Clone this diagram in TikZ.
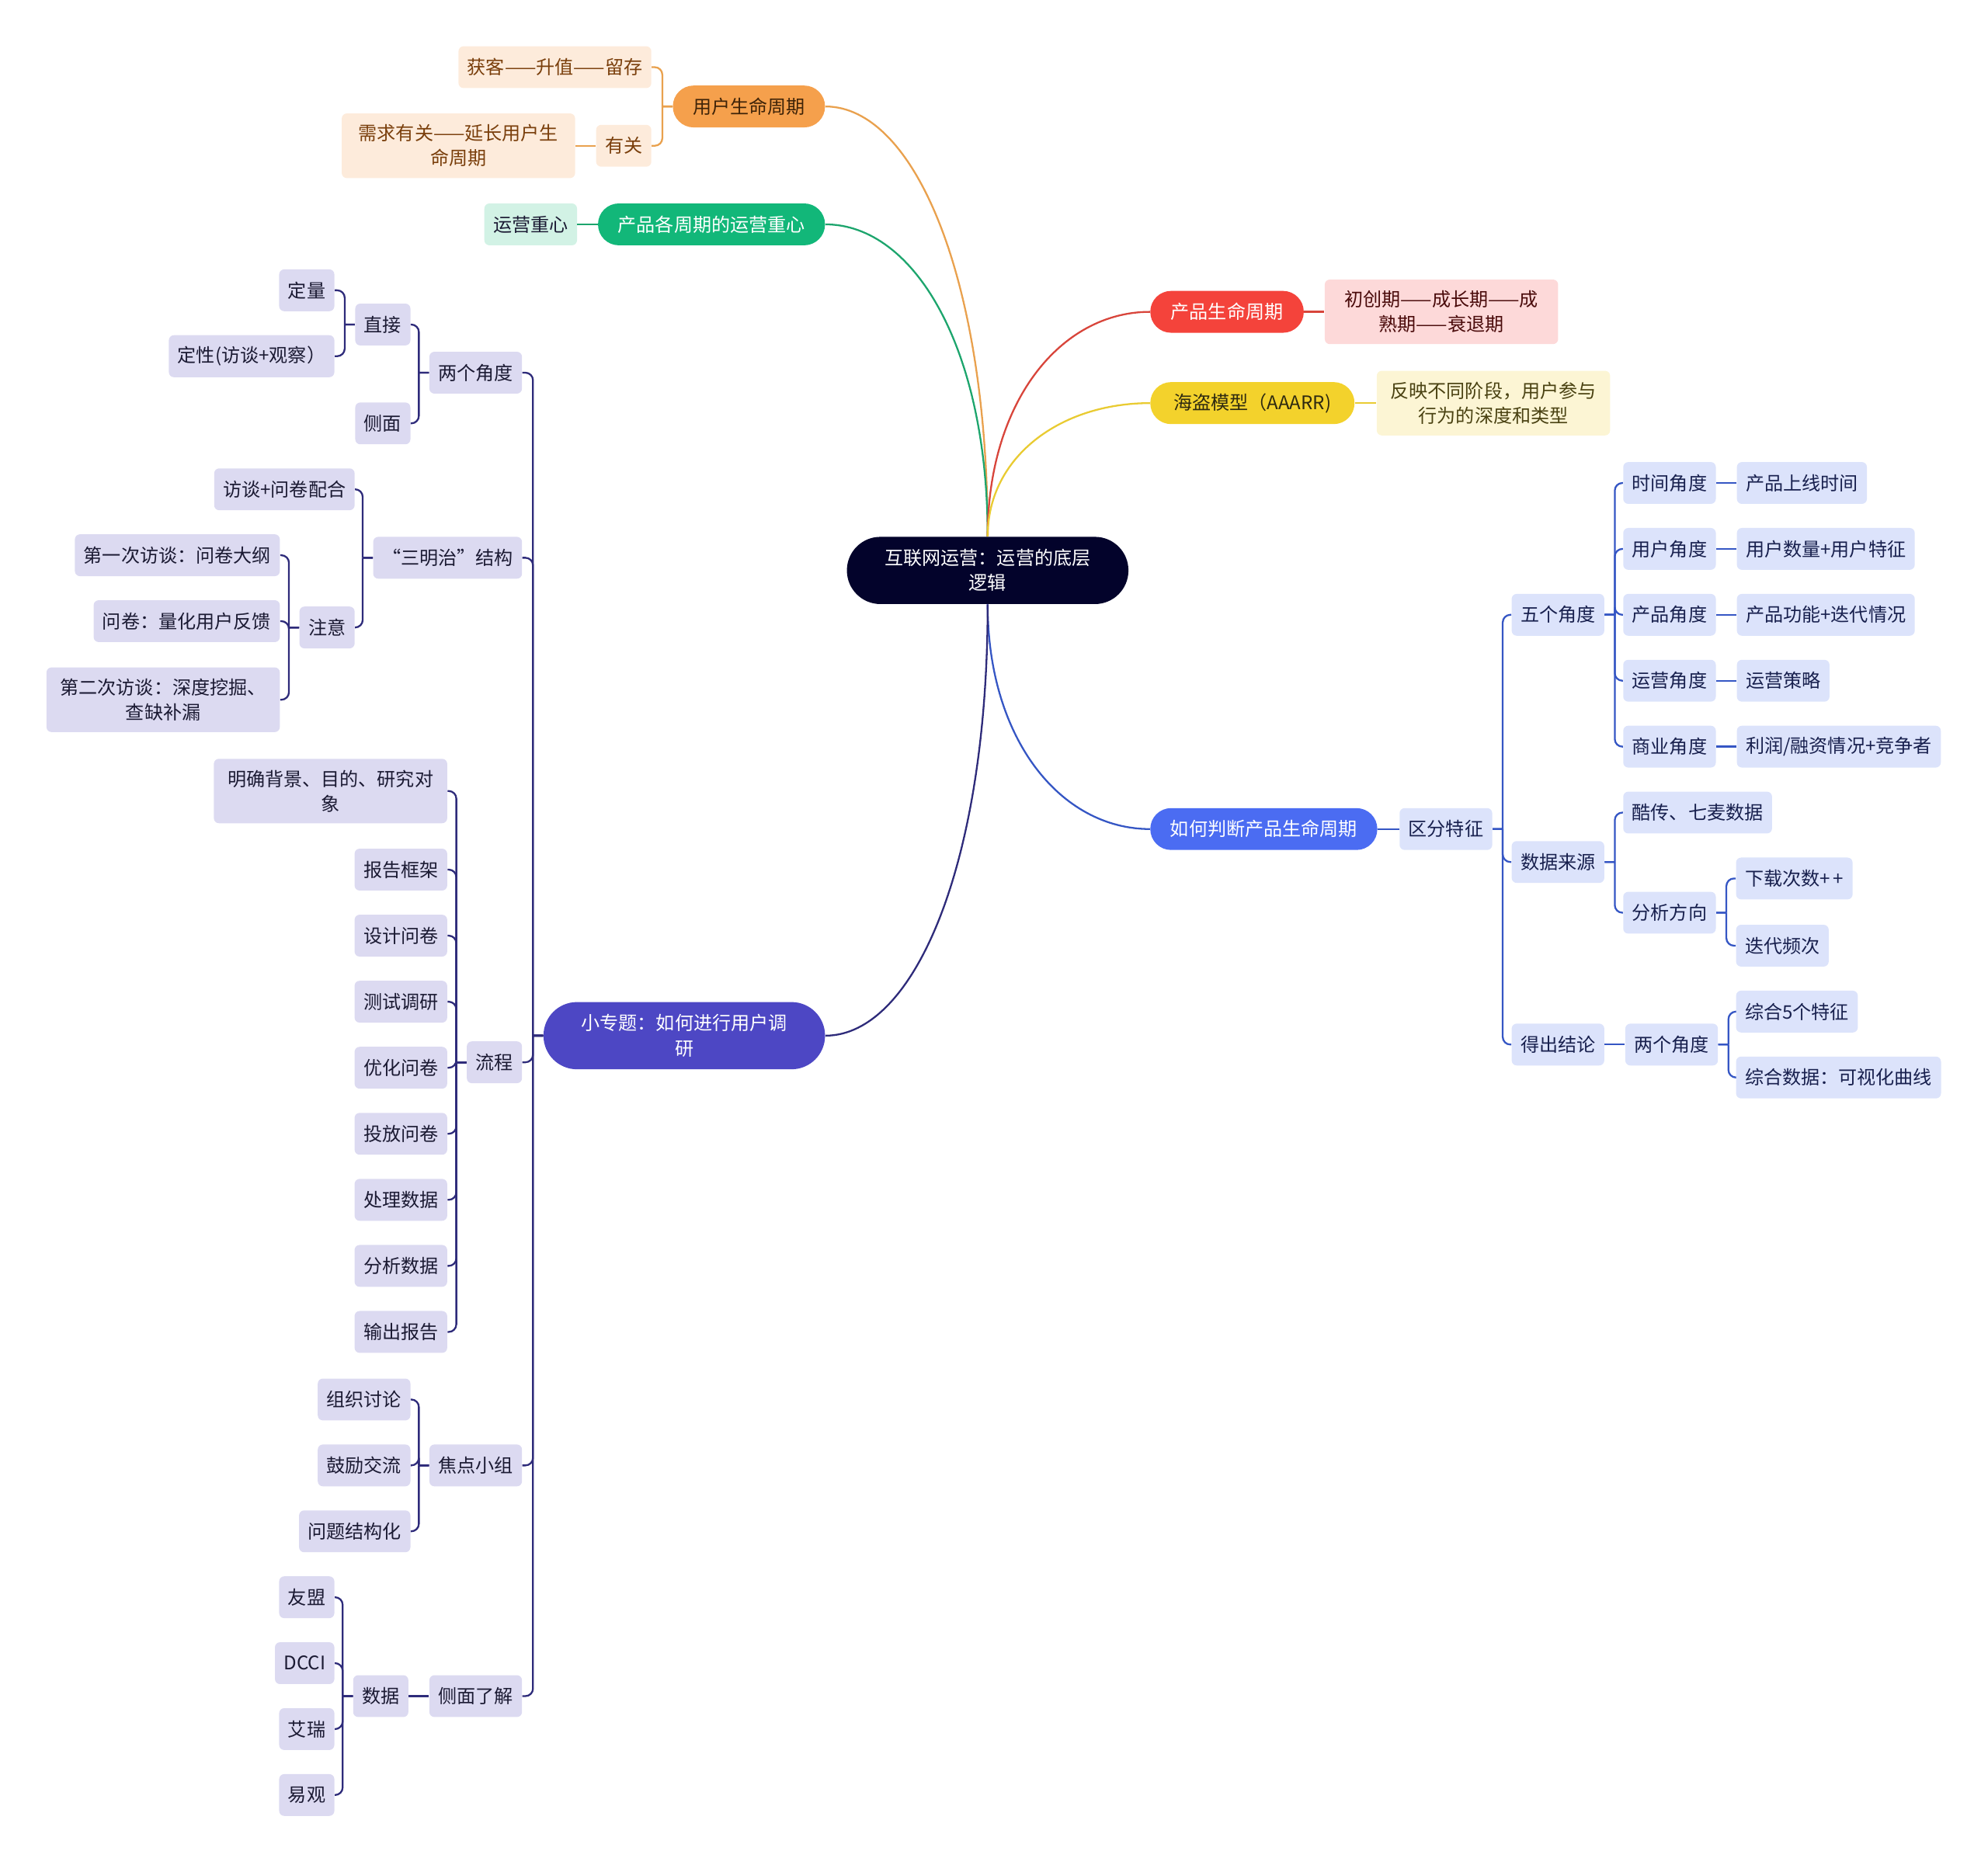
\documentclass[tikz,border=0pt]{standalone}
\usepackage{fontspec}
\setmainfont{Noto Sans CJK SC}
\usetikzlibrary{calc, positioning}

\definecolor{rootbg}{HTML}{03032B}
\definecolor{orbg}{HTML}{F5A04C}
\definecolor{ortx}{HTML}{3E2308}
\definecolor{orleaf}{HTML}{FDEBDB}
\definecolor{orleaftx}{HTML}{7A3F0C}
\definecolor{orln}{HTML}{E9A14E}
\definecolor{grbg}{HTML}{12B779}
\definecolor{grleaf}{HTML}{D2F2E5}
\definecolor{grln}{HTML}{1DA56D}
\definecolor{rdbg}{HTML}{F4433B}
\definecolor{rdleaf}{HTML}{FDD9D9}
\definecolor{rdleaftx}{HTML}{4A0B0B}
\definecolor{rdln}{HTML}{D8453B}
\definecolor{ylbg}{HTML}{F3D22C}
\definecolor{yltx}{HTML}{2E2A10}
\definecolor{ylleaf}{HTML}{FCF5D4}
\definecolor{ylleaftx}{HTML}{4A4212}
\definecolor{ylln}{HTML}{E9CB32}
\definecolor{blbg}{HTML}{4B6CF2}
\definecolor{blbox}{HTML}{DCE3FB}
\definecolor{bltx}{HTML}{18204E}
\definecolor{blln}{HTML}{3556C4}
\definecolor{inbg}{HTML}{4D47C4}
\definecolor{lavbox}{HTML}{DCDAF1}
\definecolor{lavtx}{HTML}{1B1A33}
\definecolor{inln}{HTML}{2E2B7A}

\begin{document}
\begin{tikzpicture}[x=0.025cm, y=-0.025cm,
    every node/.style={font=\fontsize{10.5}{14}\selectfont, align=center},
    box/.style={rounded corners=1mm, inner xsep=1.75mm, inner ysep=2.2mm, minimum height=8.25mm},
    pill/.style={rounded corners=4.1mm, inner xsep=3mm, inner ysep=2.2mm, minimum height=8.25mm},
    bigpill/.style={rounded corners=6.6mm, minimum width=55.5mm, minimum height=13.25mm},
    twoline/.style={minimum width=46mm},
    lbox/.style={box, fill=lavbox, text=lavtx, anchor=east},
    rbox/.style={box, fill=blbox, text=bltx, anchor=west},
    lline/.style={draw=inln, line width=1pt, rounded corners=1.5mm},
    rline/.style={draw=blln, line width=1pt, rounded corners=1.5mm},
    brl/.style={to path={-- ++(-8,0) ++(0,0) |- (\tikztotarget)}},
    brr/.style={to path={-- ++(8,0) ++(0,0) |- (\tikztotarget)}},
    rootcurve/.style={line width=1pt, to path={.. controls ($(\tikztostart)!0.6!(\tikztostart|-\tikztotarget)$) and ($(\tikztotarget)!0.55!(\tikztostart|-\tikztotarget)$) .. (\tikztotarget)}}]

    \useasboundingbox (0,0) rectangle (1568,1471);

    % centre
    \node[bigpill, fill=rootbg, text=white] (root) at (779,450) {互联网运营：运营的底层\\逻辑};

    % user life cycle
    \node[pill, fill=orbg, text=ortx, anchor=east, minimum width=30mm] (ulc) at (651,84) {用户生命周期};
    \node[box, fill=orleaf, text=orleaftx, anchor=east] (ulc1) at (514,53) {获客——升值——留存};
    \node[box, fill=orleaf, text=orleaftx, anchor=east] (ulc2) at (514,115) {有关};
    \node[box, fill=orleaf, text=orleaftx, twoline, left=4mm of ulc2] (ulc21) {需求有关——延长用户生\\命周期};

    \node[pill, fill=grbg, text=white, anchor=east, minimum width=44.75mm] (pcf) at (651,177) {产品各周期的运营重心};
    \node[box, fill=grleaf, text=lavtx, left=4mm of pcf] (pcf1) {运营重心};

    % right side
    \node[pill, fill=rdbg, text=white, anchor=west, minimum width=30.25mm] (plc) at (907,246) {产品生命周期};
    \node[box, fill=rdleaf, text=rdleaftx, twoline, right=4mm of plc] (plc1) {初创期——成长期——成\\熟期——衰退期};

    \node[pill, fill=ylbg, text=yltx, anchor=west, minimum width=40.25mm] (pir) at (907,318) {海盗模型（AAARR)};
    \node[box, fill=ylleaf, text=ylleaftx, twoline, right=4.25mm of pir] (pir1) {反映不同阶段，用户参与\\行为的深度和类型};

    \node[pill, fill=blbg, text=white, anchor=west, minimum width=44.75mm] (how) at (907,654) {如何判断产品生命周期};
    \node[rbox, right=4.25mm of how] (how1) {区分特征};
    \node[rbox] (f5) at (1192,485) {五个角度};
    \node[rbox] (src) at (1192,680) {数据来源};
    \node[rbox] (con) at (1192,824) {得出结论};

    \node[rbox] (f51) at (1280,381) {时间角度};
    \node[rbox] (f52) at (1280,433) {用户角度};
    \node[rbox] (f53) at (1280,485) {产品角度};
    \node[rbox] (f54) at (1280,537) {运营角度};
    \node[rbox] (f55) at (1280,589) {商业角度};
    \node[rbox, right=4mm of f51] (f511) {产品上线时间};
    \node[rbox, right=4mm of f52] (f521) {用户数量+用户特征};
    \node[rbox, right=4mm of f53] (f531) {产品功能+迭代情况};
    \node[rbox, right=4mm of f54] (f541) {运营策略};
    \node[rbox, right=4mm of f55] (f551) {利润/融资情况+竞争者};

    \node[rbox] (src1) at (1280,641) {酷传、七麦数据};
    \node[rbox] (src2) at (1280,720) {分析方向};
    \node[rbox] (src21) at (1369,693) {下载次数+\,+};
    \node[rbox] (src22) at (1369,746) {迭代频次};

    \node[rbox, right=4mm of con] (con1) {两个角度};
    \node[rbox] (con11) at (1369,798) {综合5个特征};
    \node[rbox] (con12) at (1369,850) {综合数据：可视化曲线};

    % user research
    \node[pill, bigpill, fill=inbg, text=white, anchor=east] (ur) at (651,817) {小专题：如何进行用户调\\研};
    \node[lbox] (ur1) at (412,294) {两个角度};
    \node[lbox] (ur2) at (412,440) {“三明治”结构};
    \node[lbox] (ur3) at (412,838) {流程};
    \node[lbox] (ur4) at (412,1156) {焦点小组};
    \node[lbox] (ur5) at (412,1338) {侧面了解};

    \node[lbox] (ur11) at (324,256) {直接};
    \node[lbox] (ur12) at (324,334) {侧面};
    \node[lbox] (ur111) at (264,229) {定量};
    \node[lbox] (ur112) at (264,281) {定性(访谈+观察）};

    \node[lbox] (ur21) at (280,386) {访谈+问卷配合};
    \node[lbox] (ur22) at (280,495) {注意};
    \node[lbox] (ur221) at (221,438) {第一次访谈：问卷大纲};
    \node[lbox] (ur222) at (221,490) {问卷：量化用户反馈};
    \node[lbox, twoline] (ur223) at (221,552) {第二次访谈：深度挖掘、\\查缺补漏};

    \node[lbox, twoline] (ur30) at (353,624) {明确背景、目的、研究对\\象};
    \foreach \t [count=\i] in {报告框架, 设计问卷, 测试调研, 优化问卷, 投放问卷, 处理数据, 分析数据, 输出报告}
        \node[lbox] (ur3\i) at (353,633.9+52.1*\i) {\t};

    \node[lbox] (ur41) at (324,1104) {组织讨论};
    \node[lbox] (ur42) at (324,1156) {鼓励交流};
    \node[lbox] (ur43) at (324,1208) {问题结构化};

    \node[lbox, left=4mm of ur5] (ur51) {数据};
    \node[lbox] (ur511) at (264,1260) {友盟};
    \node[lbox] (ur512) at (264,1312) {DCCI};
    \node[lbox] (ur513) at (264,1364) {艾瑞};
    \node[lbox] (ur514) at (264,1416) {易观};

    % main branches
    \path (root.north) edge[rootcurve, draw=orln] (ulc.east)
        edge[rootcurve, draw=grln] (pcf.east)
        edge[rootcurve, draw=rdln] (plc.west)
        edge[rootcurve, draw=ylln] (pir.west);
    \path (root.south) edge[rootcurve, draw=blln] (how.west)
        edge[rootcurve, draw=inln] (ur.east);

    \path[draw=orln, line width=1pt, rounded corners=1.5mm]
        (ulc.west) edge[brl] (ulc1.east) edge[brl] (ulc2.east)
        (ulc2.west) edge (ulc21.east);
    \draw[grln, line width=1pt] (pcf.west) -- (pcf1.east);
    \draw[rdln, line width=1pt] (plc.east) -- (plc1.west);
    \draw[ylln, line width=1pt] (pir.east) -- (pir1.west);

    \path[rline] (how.east) edge (how1.west)
        (how1.east) edge[brr] (f5.west) edge[brr] (src.west) edge[brr] (con.west)
        (f5.east) edge[brr] (f51.west) edge[brr] (f52.west) edge[brr] (f53.west)
            edge[brr] (f54.west) edge[brr] (f55.west)
        (src.east) edge[brr] (src1.west) edge[brr] (src2.west)
        (src2.east) edge[brr] (src21.west) edge[brr] (src22.west)
        (con.east) edge (con1.west)
        (con1.east) edge[brr] (con11.west) edge[brr] (con12.west);
    \foreach \i in {1,...,5}
        \path[rline] (f5\i.east) edge (f5\i1.west);

    \path[lline] (ur.west) edge[brl] (ur1.east) edge[brl] (ur2.east) edge[brl] (ur3.east)
            edge[brl] (ur4.east) edge[brl] (ur5.east)
        (ur1.west) edge[brl] (ur11.east) edge[brl] (ur12.east)
        (ur11.west) edge[brl] (ur111.east) edge[brl] (ur112.east)
        (ur2.west) edge[brl] (ur21.east) edge[brl] (ur22.east)
        (ur22.west) edge[brl] (ur221.east) edge[brl] (ur222.east) edge[brl] (ur223.east)
        (ur4.west) edge[brl] (ur41.east) edge[brl] (ur42.east) edge[brl] (ur43.east)
        (ur5.west) edge (ur51.east)
        (ur51.west) edge[brl] (ur511.east) edge[brl] (ur512.east) edge[brl] (ur513.east) edge[brl] (ur514.east);
    \foreach \i in {0,...,8}
        \path[lline] (ur3.west) edge[brl] (ur3\i.east);

\end{tikzpicture}
\end{document}
